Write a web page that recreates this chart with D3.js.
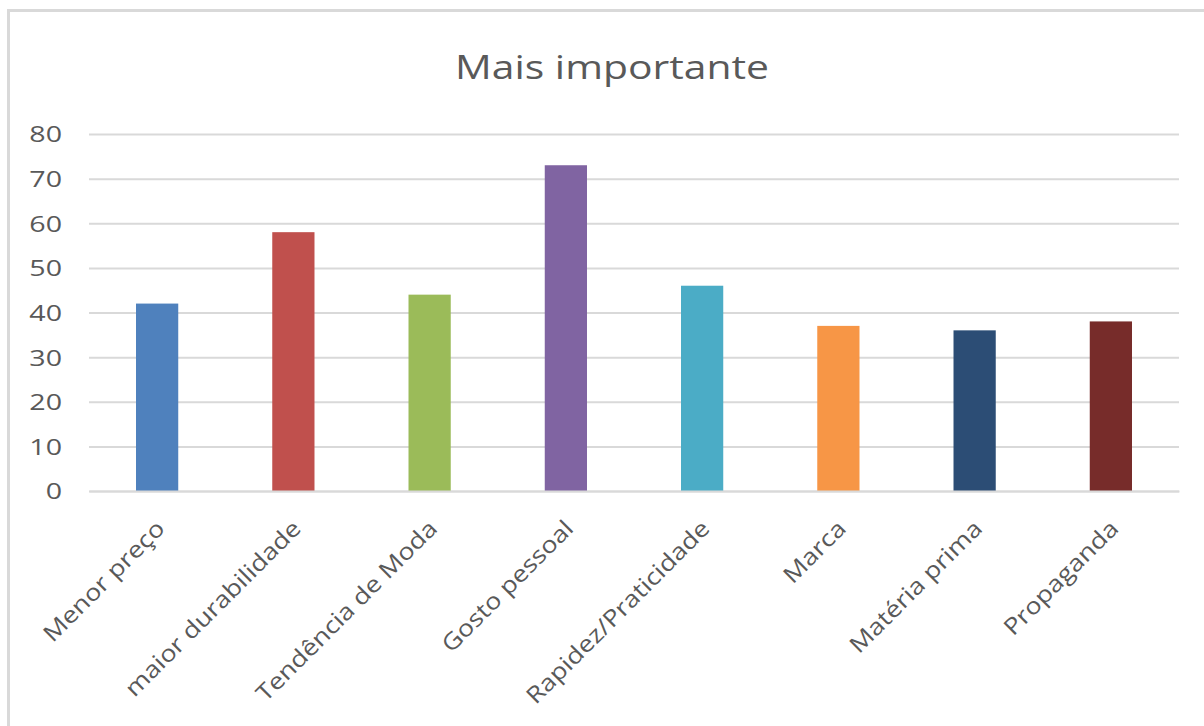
<!DOCTYPE html>
<html>
<head>
<meta charset="utf-8">
<script src="https://cdn.jsdelivr.net/npm/d3@7"></script>
<style>
  html, body { margin: 0; padding: 0; background: #fff; }
  svg { display: block; }
  text { font-family: "Open Sans", "Noto Sans", sans-serif; fill: #595959; }
</style>
</head>
<body>
<script>
// Survey answers: what matters most when choosing
const categories = ["Menor preço", "maior durabilidade", "Tendência de Moda", "Gosto pessoal",
                    "Rapidez/Praticidade", "Marca", "Matéria prima", "Propaganda"];
const values = [42, 58, 44, 73, 46, 37, 36, 38];
const barColors = ["#4F81BD", "#C0504D", "#9BBB59", "#8064A2",
                   "#4BACC6", "#F79646", "#2C4D75", "#772C2A"];
const yTicks = [0, 10, 20, 30, 40, 50, 60, 70, 80];
const title = "Mais importante";

const W = 1204, H = 726;
const plot = { left: 89, right: 1179, top: 134, bottom: 491 };

const svg = d3.select("body").append("svg").attr("width", W).attr("height", H);

// chart frame
svg.append("rect")
  .attr("x", 8.5).attr("y", 10.5)
  .attr("width", W + 20).attr("height", H + 20)
  .attr("fill", "#fff").attr("stroke", "#d9d9d9").attr("stroke-width", 3);

const x = d3.scaleBand().domain(categories).range([plot.left, plot.right]).paddingInner(0.69).paddingOuter(0.345);
const y = d3.scaleLinear().domain([0, 80]).range([plot.bottom, plot.top]);

// title
svg.append("text")
  .attr("x", 612).attr("y", 79)
  .attr("text-anchor", "middle")
  .attr("font-size", 33)
  .attr("textLength", 314).attr("lengthAdjust", "spacingAndGlyphs")
  .text(title);

// widen lettering horizontally by a factor
function stretch(factor) {
  return sel => sel.each(function () {
    const len = this.getComputedTextLength();
    d3.select(this).attr("textLength", len * factor).attr("lengthAdjust", "spacingAndGlyphs");
  });
}

// horizontal gridlines and value labels
const yAxis = d3.axisLeft(y).tickValues(yTicks).tickSize(-(plot.right - plot.left)).tickPadding(27);
const gy = svg.append("g").attr("transform", `translate(${plot.left},0)`).call(yAxis);
gy.select(".domain").remove();
gy.selectAll(".tick line").attr("stroke", "#d9d9d9").attr("stroke-width", 2);
gy.selectAll(".tick text")
  .attr("font-size", 22)
  .attr("fill", "#595959")
  .style("font-family", "'Open Sans', sans-serif")
  .attr("dy", "0.36em")
  .call(stretch(1.3));

// bars
svg.append("g").selectAll("rect").data(values).join("rect")
  .attr("x", (d, i) => x(categories[i]))
  .attr("y", d => y(d))
  .attr("width", x.bandwidth())
  .attr("height", d => y(0) - y(d))
  .attr("fill", (d, i) => barColors[i]);

// category axis with rotated labels
const xAxis = d3.axisBottom(x).tickSize(0).tickPadding(0);
const gx = svg.append("g").attr("transform", `translate(0,${plot.bottom})`).call(xAxis);
gx.select(".domain").attr("stroke", "#d9d9d9").attr("stroke-width", 2);
gx.selectAll(".tick text")
  .attr("font-size", 23)
  .attr("fill", "#595959")
  .style("font-family", "'Open Sans', sans-serif")
  .attr("text-anchor", "end")
  .attr("dy", 0)
  .attr("y", 0)
  .attr("transform", "translate(9,39) rotate(-45)")
  .call(stretch(1.16));
</script>
</body>
</html>
